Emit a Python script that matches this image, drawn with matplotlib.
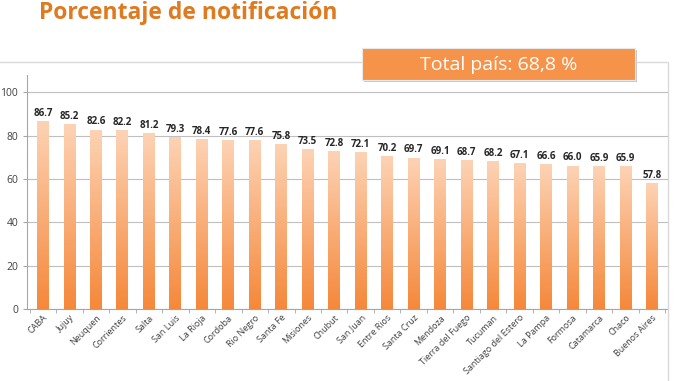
import matplotlib
matplotlib.use("Agg")
import matplotlib.pyplot as plt
import numpy as np
from matplotlib.colors import LinearSegmentedColormap
from matplotlib.patches import Rectangle

provinces = ["CABA", "Jujuy", "Neuquen", "Corrientes", "Salta", "San Luis", "La Rioja",
             "Cordoba", "Rio Negro", "Santa Fe", "Misiones", "Chubut", "San Juan",
             "Entre Rios", "Santa Cruz", "Mendoza", "Tierra del Fuego", "Tucuman",
             "Santiago del Estero", "La Pampa", "Formosa", "Catamarca", "Chaco", "Buenos Aires"]
values = [86.7, 85.2, 82.6, 82.2, 81.2, 79.3, 78.4, 77.6, 77.6, 75.8, 73.5, 72.8, 72.1,
          70.2, 69.7, 69.1, 68.7, 68.2, 67.1, 66.6, 66.0, 65.9, 65.9, 57.8]
yticks = [0, 20, 40, 60, 80, 100]
title = "Porcentaje de notificación"
total_label = "Total país: 68,8 %"

plt.rcParams['font.family'] = ['Open Sans', 'DejaVu Sans']

fig = plt.figure(figsize=(6.78, 3.81), dpi=100)
fig.patch.set_facecolor("white")

# outer chart frame
fig.add_artist(Rectangle((-0.01, -0.1), 0.995, 0.937, transform=fig.transFigure,
                         fill=False, edgecolor="#D9D9D9", linewidth=1.0))

ax = fig.add_axes([0.040, 0.189, 0.945, 0.614])
x = np.arange(len(provinces))
bars = ax.bar(x, values, width=0.45, color="none", edgecolor="none", zorder=2)

cmap = LinearSegmentedColormap.from_list("g", ["#F5883A", "#FDD3B5"])
grad = np.linspace(0, 1, 256).reshape(-1, 1)
for b in bars:
    x0, y0 = b.get_x(), b.get_y()
    w, h = b.get_width(), b.get_height()
    ax.imshow(grad, cmap=cmap, origin="lower", aspect="auto",
              extent=(x0, x0 + w, y0, y0 + h), zorder=2)

for xi, v in zip(x, values):
    ax.text(xi, v + 1.2, f"{v:.1f}", ha="center", va="bottom", fontsize=7,
            fontweight="bold", color="#262626")

ax.set_xlim(-0.6, len(provinces) - 0.4)
ax.set_ylim(0, 108)
ax.set_yticks(yticks)
ax.yaxis.grid(True, color="#BFBFBF", linewidth=0.8, zorder=0)
ax.set_axisbelow(True)
ax.set_xticks(np.arange(-0.5, len(provinces), 1), minor=True)
ax.set_xticks(x)
ax.set_xticklabels(provinces, rotation=45, ha="right", rotation_mode="anchor",
                   fontsize=6.5, color="#404040")
ax.tick_params(axis="x", which="major", length=0, pad=3)
ax.tick_params(axis="x", which="minor", length=3, color="#A6A6A6")
ax.tick_params(axis="y", labelsize=7.5, color="#A6A6A6", labelcolor="#404040", length=3)
for s in ["top", "right"]:
    ax.spines[s].set_visible(False)
for s in ["left", "bottom"]:
    ax.spines[s].set_color("#A6A6A6")

fig.text(0.058, 0.997, title, ha="left", va="top", fontsize=16.5, fontweight="bold",
         color="#E07A1F")

# Total box with slight shadow
fig.add_artist(Rectangle((0.537, 0.784), 0.403, 0.086, transform=fig.transFigure,
                         facecolor="#C8C8C8", edgecolor="none"))
fig.add_artist(Rectangle((0.534, 0.790), 0.403, 0.084, transform=fig.transFigure,
                         facecolor="#F5934A", edgecolor="#E8E8E8", linewidth=0.8))
fig.text(0.7355, 0.830, total_label, ha="center", va="center", fontsize=14, color="white")

fig.savefig("out.png", dpi=100)
